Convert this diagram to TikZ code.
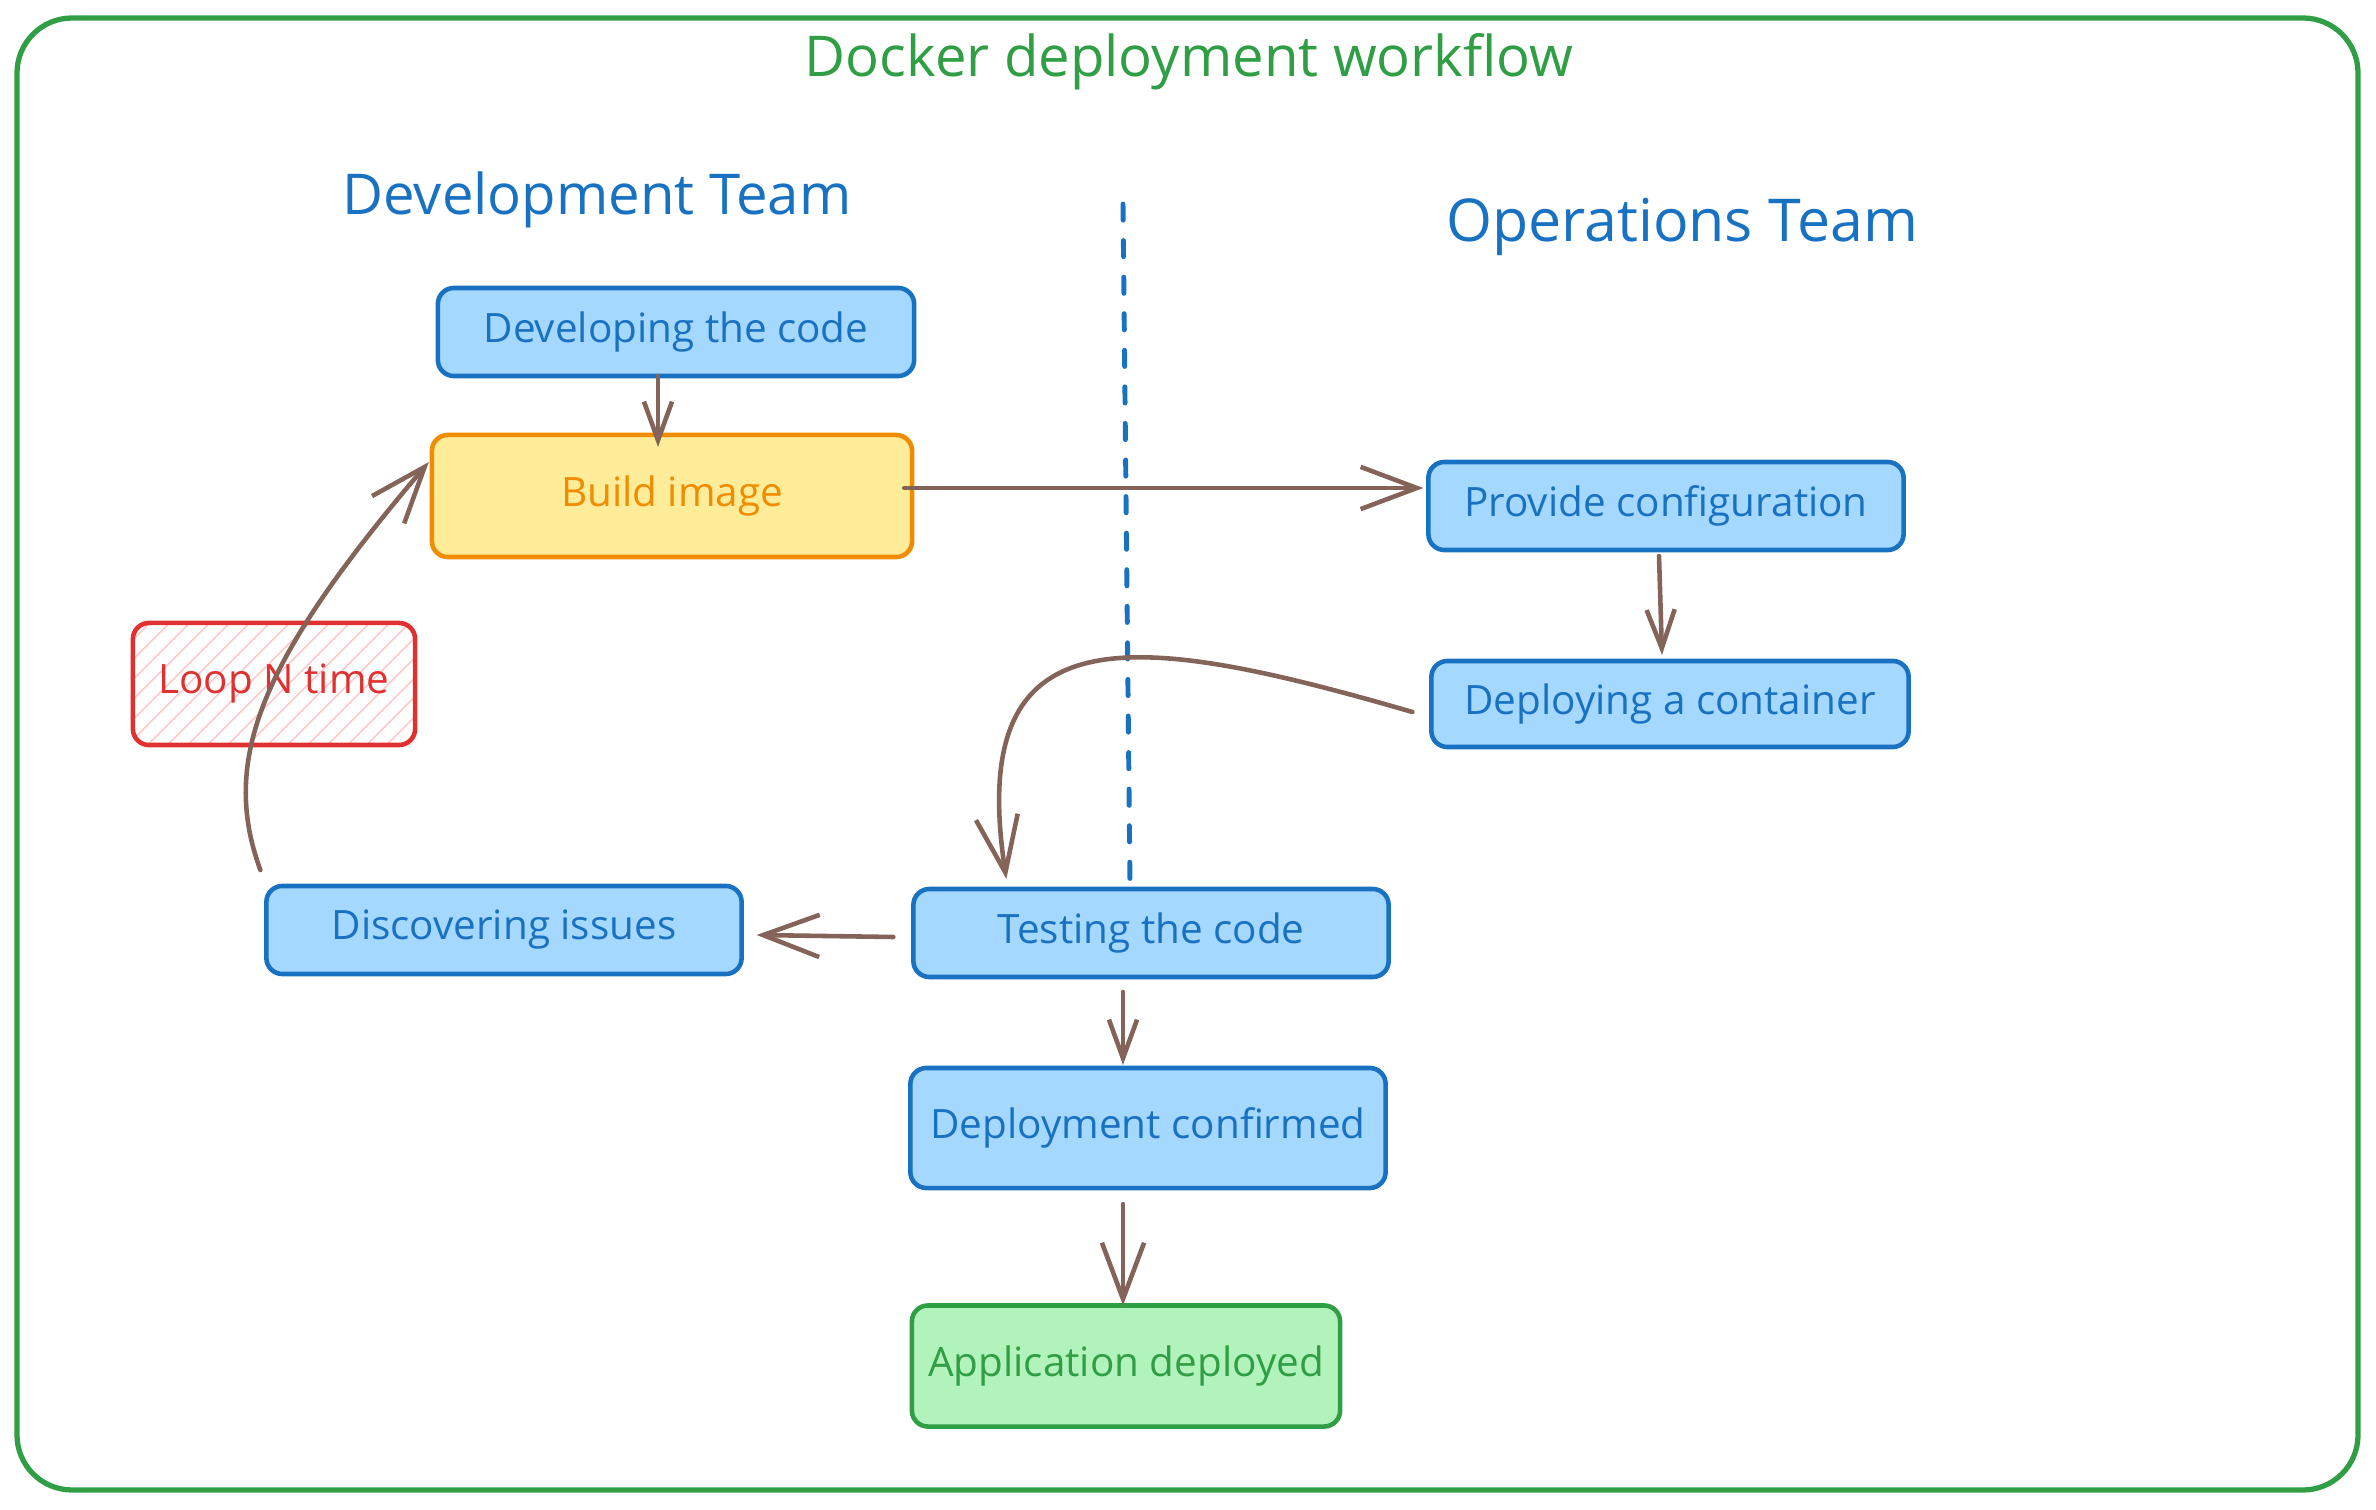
\documentclass[tikz,border=0pt]{standalone}
\usepackage{fontspec}
\setmainfont{Open Sans}
\usetikzlibrary{arrows.meta,calc,patterns.meta}
\definecolor{cblue}{HTML}{1971C2}
\definecolor{fblue}{HTML}{A5D8FF}
\definecolor{corange}{HTML}{F08C00}
\definecolor{forange}{HTML}{FFEC99}
\definecolor{cred}{HTML}{E03131}
\definecolor{fred}{HTML}{FFC9C9}
\definecolor{cgreen}{HTML}{2F9E44}
\definecolor{fgreen}{HTML}{B2F2BB}
\definecolor{cbrown}{HTML}{846358}
\begin{document}
\begin{tikzpicture}[x=0.01cm,y=-0.01cm,
  box/.style={rectangle,rounded corners=0.16cm,line width=1.3pt,inner sep=0pt,outer sep=0pt,font=\fontsize{11.5pt}{13pt}\selectfont},
  bluebox/.style={box,draw=cblue,fill=fblue,text=cblue},
  orangebox/.style={box,draw=corange,fill=forange,text=corange},
  redbox/.style={box,draw=cred,pattern={Lines[angle=45,distance=4pt,line width=0.5pt]},pattern color=fred,text=cred},
  greenbox/.style={box,draw=cgreen,fill=fgreen,text=cgreen},
  arr/.style={draw=cbrown,line width=1.3pt,line cap=round,-{Straight Barb[length=16pt,width=12pt,line width=1.3pt]}},
  arrsmall/.style={draw=cbrown,line width=1.3pt,line cap=round,-{Straight Barb[length=11pt,width=8pt,line width=1.3pt]}},
  teamlabel/.style={text=cblue},
  frame/.style={draw=cgreen,line width=1.5pt,rounded corners=0.55cm}
]
\useasboundingbox (0,0) rectangle (2376,1510);
\draw[frame] (17,18) rectangle (2358,1490);

\node[text=cgreen,font=\fontsize{16pt}{19pt}\selectfont] (title) at (1189,62) {Docker deployment workflow};
\node[teamlabel,font=\fontsize{16pt}{19pt}\selectfont] (devteam) at (597,200) {Development Team};
\node[teamlabel,font=\fontsize{16.8pt}{19pt}\selectfont] (opsteam) at (1682,227) {Operations Team};

\coordinate (d1) at (1123,204);
\coordinate (d2) at (1130,886);
\draw[cblue,line width=1.4pt,line cap=round,dash pattern=on 4.6pt off 5.8pt] (d1) -- (d2);

\node[bluebox,minimum width=4.76cm,minimum height=0.88cm] (dev) at (676,332) {Developing the code};
\node[orangebox,minimum width=4.80cm,minimum height=1.22cm] (build) at (672,496) {Build image};
\node[bluebox,minimum width=4.75cm,minimum height=0.88cm] (prov) at (1666,506) {Provide configuration};
\node[bluebox,minimum width=4.77cm,minimum height=0.86cm] (depl) at (1670,704) {Deploying a container};
\node[redbox,minimum width=2.82cm,minimum height=1.22cm] (loop) at (274,684) {Loop N time};
\node[bluebox,minimum width=4.75cm,minimum height=0.88cm] (disc) at (504,930) {Discovering issues};
\node[bluebox,minimum width=4.75cm,minimum height=0.88cm] (test) at (1151,933) {Testing the code};
\node[bluebox,minimum width=4.75cm,minimum height=1.20cm] (conf) at (1148,1128) {Deployment confirmed};
\node[greenbox,minimum width=4.28cm,minimum height=1.21cm] (app) at (1126,1366) {Application deployed};

\draw[arrsmall] ($(dev.south)+(-18,0)$) -- ($(build.north)+(-14,12)$);
\draw[arr] ($(build.east)+(-8,-8)$) -- ($(prov.west)+(-5,-18)$);
\draw[arrsmall] ($(prov.south)+(-7,6)$) -- ($(depl.north)+(-8,-6)$);
\draw[arr] ($(depl.west)+(-19,8)$) .. controls (1130,630) and (965,610) .. ($(test.north west)+(93,-10)$);
\draw[arr] ($(test.west)+(-20,4)$) -- ($(disc.east)+(15,5)$);
\draw[arr] ($(disc.north west)+(-6,-16)$) .. controls (220,760) and (260,660) .. ($(build.west)+(-3,-34)$);
\draw[arrsmall] ($(test.south)+(-28,15)$) -- ($(conf.north)+(-25,-3)$);
\draw[arr] ($(conf.south)+(-25,16)$) -- ($(app.north)+(-3,0)$);
\end{tikzpicture}
\end{document}
